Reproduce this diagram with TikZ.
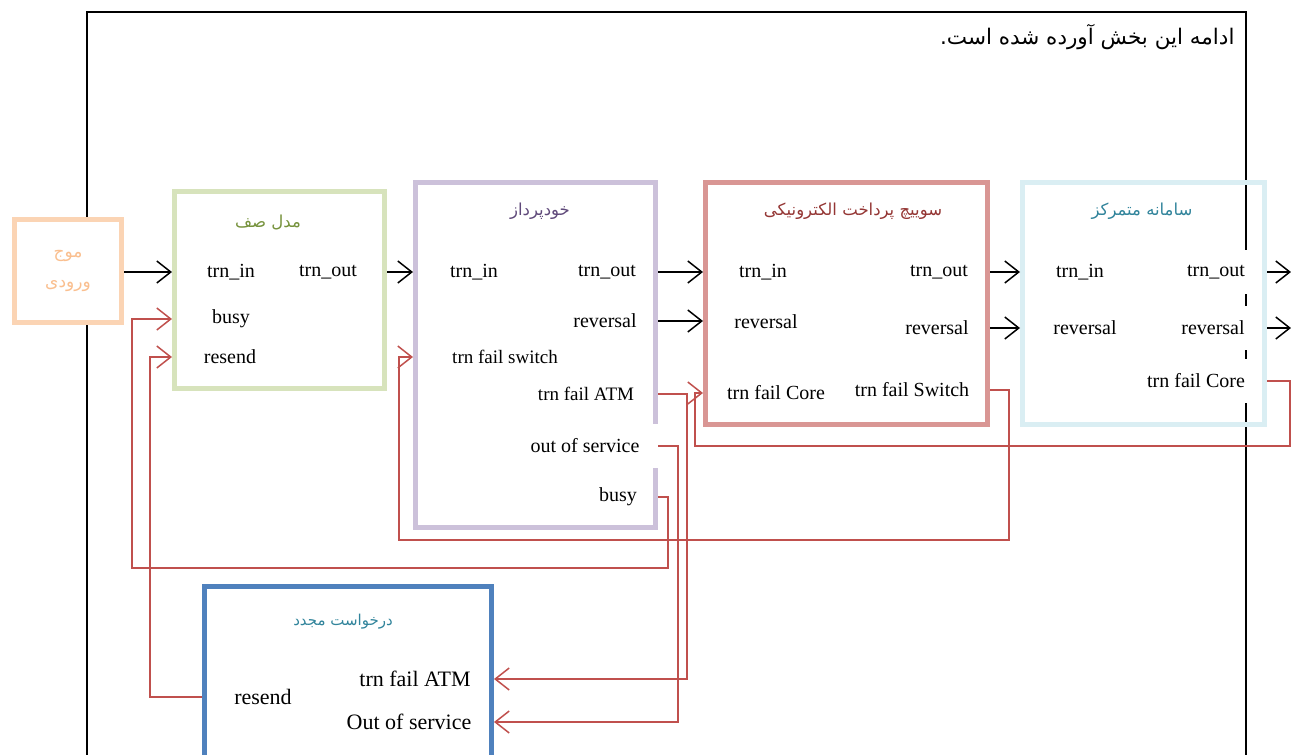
\documentclass[tikz,border=0pt]{standalone}
\usepackage{fontspec}
\setmainfont{Liberation Serif}
\newfontfamily\farsi[Script=Arabic]{DejaVu Sans}
\TeXXeTstate=1
\usetikzlibrary{arrows.meta, calc}
\definecolor{waveorange}{RGB}{251,212,180}
\definecolor{wavetext}{RGB}{250,191,143}
\definecolor{queuegreen}{RGB}{215,227,188}
\definecolor{queuetext}{RGB}{118,146,60}
\definecolor{atmpurple}{RGB}{204,193,218}
\definecolor{atmtext}{RGB}{95,73,122}
\definecolor{switchred}{RGB}{217,150,148}
\definecolor{switchtext}{RGB}{148,54,52}
\definecolor{corecyan}{RGB}{218,238,243}
\definecolor{coretext}{RGB}{49,132,155}
\definecolor{retryblue}{RGB}{79,129,189}
\definecolor{failred}{RGB}{192,80,77}
\newcommand{\persian}[1]{\beginR#1\endR}

\begin{document}
\begin{tikzpicture}[x=1pt,y=-1pt,
  block/.style={draw, line width=5pt, inner sep=0pt},
  title/.style={font=\farsi\fontsize{16.5}{20}\selectfont},
  port/.style={fill=white, inner xsep=6pt, inner ysep=15pt, font=\fontsize{20}{24}\selectfont},
  flow/.style={line width=1.5pt, -{Straight Barb[length=14pt,width=22pt]}},
  fail/.style={flow, draw=failred}]
\useasboundingbox (0,0) rectangle (1291,755);
\clip (0,0) rectangle (1291,755);
\draw[line width=1.8pt] (87,12) rectangle (1246,800);
\node[anchor=east, font=\farsi\fontsize{21.5}{26}\selectfont] (note) at (1238,37) {\persian{ادامه این بخش آورده شده است.}};

% blocks
\node[block, draw=waveorange, fill=white, minimum width=107pt, minimum height=103pt] (wave) at (68,271) {};
\node[title, text=wavetext, align=center, font=\farsi\fontsize{17}{30}\selectfont] (wavename) at (68,271) {\persian{موج}\\\persian{ورودی}};
\node[block, draw=queuegreen, minimum width=210pt, minimum height=197pt] (queue) at (279.5,290) {};
\node[title, text=queuetext] (queuename) at (268,222) {\persian{مدل صف}};
\node[block, draw=atmpurple, minimum width=240pt, minimum height=345pt] (atm) at (535.5,355) {};
\node[title, text=atmtext] (atmname) at (540,211) {\persian{خودپرداز}};
\node[block, draw=switchred, minimum width=282pt, minimum height=242pt] (switch) at (846.5,303.5) {};
\node[title, text=switchtext] (switchname) at (853,211) {\persian{سوییچ پرداخت الکترونیکی}};
\node[block, draw=corecyan, minimum width=242pt, minimum height=242pt] (core) at (1143.5,303.5) {};
\node[title, text=coretext] (corename) at (1142,211) {\persian{سامانه متمرکز}};
\node[block, draw=retryblue, minimum width=287pt, minimum height=212pt] (retry) at (348,692) {};
\node[title, text=coretext, font=\farsi\fontsize{15}{18}\selectfont] (retryname) at (343,622) {\persian{درخواست مجدد}};

% ports
\node[port] (qin) at (231,272) {trn\_in};
\node[port] (qout) at (328,272) {trn\_out};
\node[port] (qbusy) at (231,319) {busy};
\node[port] (qresend) at (230,357) {resend};
\node[port] (ain) at (474,272) {trn\_in};
\node[port] (aout) at (607,272) {trn\_out};
\node[port] (arev) at (605,321) {reversal};
\node[port, font=\fontsize{19}{22}\selectfont] (afsw) at (505,357) {trn fail switch};
\node[port, font=\fontsize{19}{22}\selectfont] (afatm) at (586,394) {trn fail ATM};
\node[port, inner xsep=24pt] (aoos) at (585,446) {out of service};
\node[port] (abusy) at (618,497) {busy};
\node[port] (sin) at (763,272) {trn\_in};
\node[port] (sout) at (939,272) {trn\_out};
\node[port] (srevin) at (766,322) {reversal};
\node[port] (srevout) at (937,328) {reversal};
\node[port] (sfcore) at (776,393) {trn fail Core};
\node[port] (sfsw) at (912,390) {trn fail Switch};
\node[port] (cin) at (1080,272) {trn\_in};
\node[port] (cout) at (1216,272) {trn\_out};
\node[port] (crevin) at (1085,328) {reversal};
\node[port] (crevout) at (1213,328) {reversal};
\node[port] (cfcore) at (1196,381) {trn fail Core};
\node[port, font=\fontsize{22}{26}\selectfont] (rfatm) at (415,679) {trn fail ATM};
\node[port, font=\fontsize{22}{26}\selectfont] (rresend) at (263,697) {resend};
\node[port, font=\fontsize{22}{26}\selectfont] (roos) at (409,722) {Out of service};
\coordinate (outtrn) at (1291,272);
\coordinate (outrev) at (1291,328);

% main flow
\draw[flow] (wave.east |- qin) -- (queue.west |- qin);
\draw[flow] (queue.east |- qout) -- (atm.west |- qout);
\draw[flow] (atm.east |- aout) -- (switch.west |- aout);
\draw[flow] (atm.east |- arev) -- (switch.west |- arev);
\draw[flow] (switch.east |- sout) -- (core.west |- sout);
\draw[flow] (switch.east |- srevout) -- (core.west |- srevout);
\draw[flow] (core.east |- cout) -- (outtrn);
\draw[flow] (core.east |- crevout) -- (outrev);

% failures
\draw[fail] (core.east |- cfcore) -- ++(23,0) -- ++(0,65) -| ($(switch.west |- sfcore)+(-8,0)$) -- (switch.west |- sfcore);
\draw[fail] (switch.east |- sfsw) -- ++(19,0) -- ++(0,150) -| ($(atm.west |- afsw)+(-14,0)$) -- (atm.west |- afsw);
\draw[fail] (atm.east |- abusy) -- ++(10,0) -- ++(0,71) -| ($(queue.west |- qbusy)+(-40,0)$) -- (queue.west |- qbusy);
\draw[fail] (retry.west |- rresend) -| ($(queue.west |- qresend)+(-22,0)$) -- (queue.west |- qresend);
\draw[fail] (atm.east |- afatm) -- ++(29,0) |- (retry.east |- rfatm);
\draw[fail] (atm.east |- aoos) -- ++(20,0) |- (retry.east |- roos);
\end{tikzpicture}
\end{document}
